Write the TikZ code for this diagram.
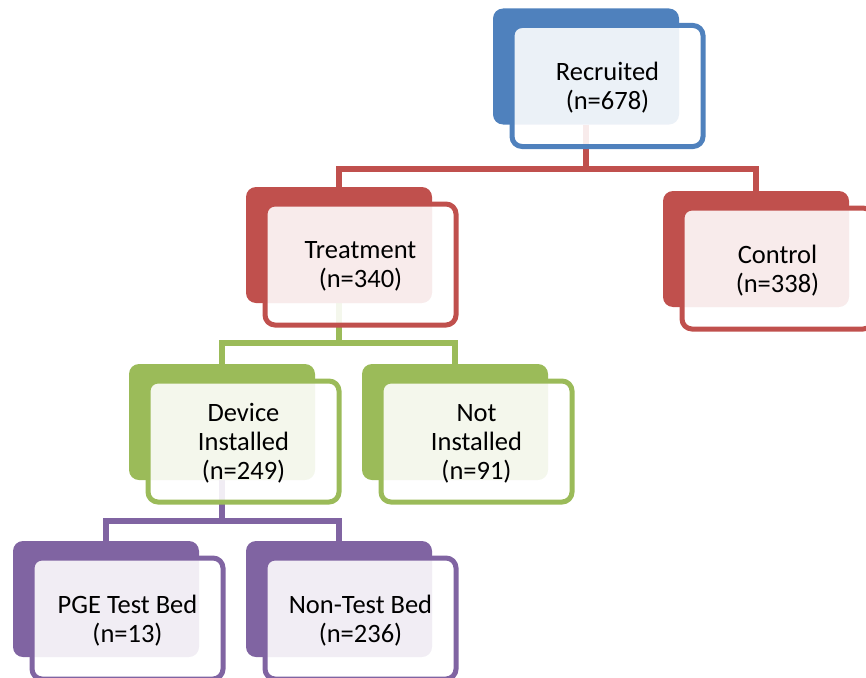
\documentclass[tikz,border=0pt]{standalone}
\usepackage{fontspec}
\setmainfont{Carlito}
\usetikzlibrary{backgrounds}
\definecolor{cblue}{HTML}{4F81BD}
\definecolor{cred}{HTML}{C0504D}
\definecolor{cgreen}{HTML}{9BBB59}
\definecolor{cpurple}{HTML}{8064A2}
\tikzset{
  boxback/.style={fill=#1, draw=none, rounded corners=10pt, minimum width=186pt, minimum height=116pt, inner sep=0pt},
  boxframe/.style={fill=white, fill opacity=0.89, draw=#1, line width=5pt, rounded corners=10pt, minimum width=191pt, minimum height=121pt, inner sep=0pt},
  boxtext/.style={align=center, font=\fontsize{26.5}{29}\selectfont, inner sep=0pt, text=black},
  conn/.style={draw=#1, line width=5.5pt}
}
\begin{document}
\begin{tikzpicture}[x=1pt,y=-1pt]
\path[use as bounding box] (0,0) rectangle (866,677);
\clip (0,0) rectangle (866,677);

% Recruited
\node[boxback=cblue] (rec) at (586,66.5) {};
\node[boxframe=cblue] (recf) at (607.5,86) {};
\node[boxtext] (rect) at ([yshift=-2pt]recf.center) {Recruited\\(n=678)};

% Treatment
\node[boxback=cred] (treat) at (339,245) {};
\node[boxframe=cred] (treatf) at (360.5,264.5) {};
\node[boxtext] (treatt) at ([yshift=-2pt]treatf.center) {Treatment\\(n=340)};

% Control
\node[boxback=cred] (ctrl) at (756,249) {};
\node[boxframe=cred] (ctrlf) at (777.5,268.5) {};
\node[boxtext] (ctrlt) at ([yshift=-2pt]ctrlf.center) {Control\\(n=338)};

% Device Installed
\node[boxback=cgreen] (dev) at (222,422) {};
\node[boxframe=cgreen] (devf) at (243.5,441.5) {};
\node[boxtext] (devt) at ([yshift=-2pt]devf.center) {Device\\Installed\\(n=249)};

% Not Installed
\node[boxback=cgreen] (notin) at (455,422) {};
\node[boxframe=cgreen] (notinf) at (476.5,441.5) {};
\node[boxtext] (notint) at ([yshift=-2pt]notinf.center) {Not\\Installed\\(n=91)};

% PGE Test Bed
\node[boxback=cpurple] (pge) at (106,599) {};
\node[boxframe=cpurple] (pgef) at (127.5,618.5) {};
\node[boxtext] (pget) at ([yshift=-2pt]pgef.center) {PGE Test Bed\\(n=13)};

% Non-Test Bed
\node[boxback=cpurple] (ntb) at (339,599) {};
\node[boxframe=cpurple] (ntbf) at (360.5,618.5) {};
\node[boxtext] (ntbt) at ([yshift=-2pt]ntbf.center) {Non-Test Bed\\(n=236)};

\begin{pgfonlayer}{background}
\coordinate (busA) at (0,169);
\coordinate (busB) at (0,343);
\coordinate (busC) at (0,521);
\coordinate (jA) at (rec.south |- busA);
\coordinate (jB) at (treat.south |- busB);
\coordinate (jC) at (dev.south |- busC);
\draw[conn=cred] (rec.south) -- (jA) -| (treat.north);
\draw[conn=cred] (jA) -| (ctrl.north);
\draw[conn=cgreen] (treat.south) -- (jB) -| (dev.north);
\draw[conn=cgreen] (jB) -| (notin.north);
\draw[conn=cpurple] (dev.south) -- (jC) -| (pge.north);
\draw[conn=cpurple] (jC) -| (ntb.north);
\end{pgfonlayer}
\end{tikzpicture}
\end{document}
